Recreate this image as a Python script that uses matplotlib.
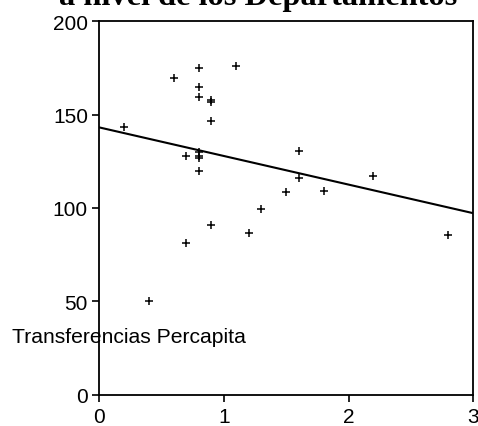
import matplotlib
matplotlib.use("Agg")
import matplotlib.pyplot as plt
import numpy as np

# Data
transferencias = [0.2, 0.4, 0.6, 0.7, 0.7, 0.8, 0.8, 0.8, 0.8, 0.8, 0.8, 0.8,
                  0.9, 0.9, 0.9, 0.9, 1.1, 1.2, 1.3, 1.5, 1.6, 1.6, 1.8, 2.2, 2.8]
valores = [143.2, 50.2, 169.5, 128.0, 81.3, 174.8, 164.6, 159.3, 129.8, 128.0, 126.6, 120.0,
           157.8, 156.6, 146.6, 90.9, 176.1, 86.6, 99.5, 108.4, 130.4, 115.9, 108.9, 117.2, 85.7]
line_x = [0, 3]
line_intercept = 143.2
line_slope = -15.33
x_ticks = [0, 1, 2, 3]
y_ticks = [0, 50, 100, 150, 200]
title_text = "a nivel de los Departamentos"
label_text = "Transferencias Percapita"

plt.rcParams['font.family'] = ['Liberation Sans', 'DejaVu Sans']

fig = plt.figure(figsize=(4.78, 4.27), dpi=100)
ax = fig.add_axes([99/478, 1 - 395.7/427, (473.3 - 99)/478, (395.7 - 22.3)/427])

ax.plot(transferencias, valores, linestyle='none', marker='+', color='black',
        markersize=6, markeredgewidth=1.1)
lx = np.array(line_x, dtype=float)
ax.plot(lx, line_intercept + line_slope * lx, color='black', linewidth=1.5)

ax.set_xlim(0, 3)
ax.set_ylim(0, 200)
ax.set_xticks(x_ticks)
ax.set_yticks(y_ticks)
ax.tick_params(direction='out', length=5, width=1.2, labelsize=15, colors='black')
ax.tick_params(axis='x', pad=4)
ax.tick_params(axis='y', pad=3)
for s in ax.spines.values():
    s.set_linewidth(1.3)
    s.set_color('black')

fig.text(258/478, 1 - 5/427, title_text, ha='center', va='baseline',
         fontsize=23.3, fontweight='bold', family=['Liberation Serif', 'DejaVu Serif'])
fig.text(12/478, 1 - 343/427, label_text, ha='left', va='baseline', fontsize=15.2)

fig.savefig("out.png", dpi=100)
